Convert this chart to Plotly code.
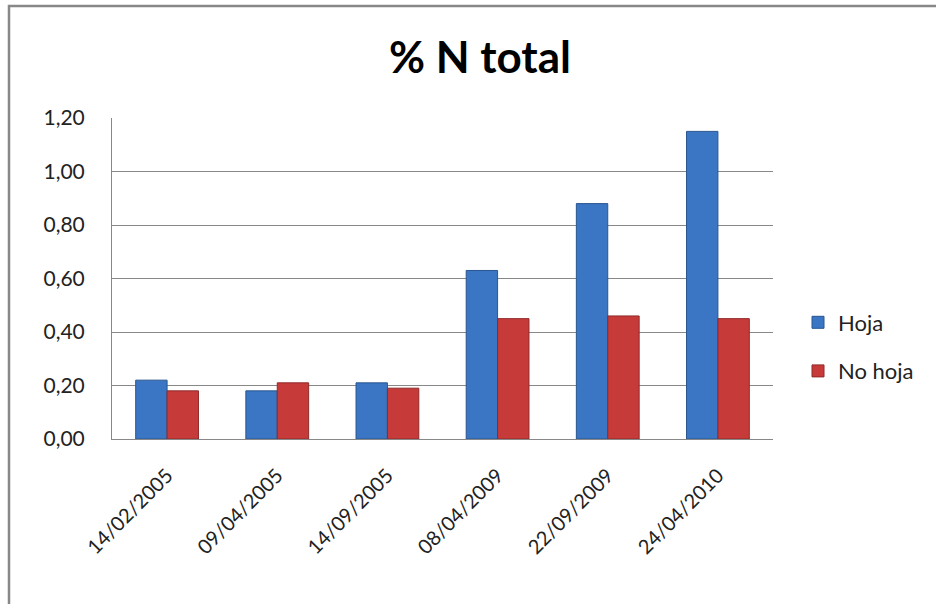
import plotly.graph_objects as go

categories = ["14/02/2005", "09/04/2005", "14/09/2005", "08/04/2009", "22/09/2009", "24/04/2010"]
hoja = [0.22, 0.18, 0.21, 0.63, 0.88, 1.15]
no_hoja = [0.18, 0.21, 0.19, 0.45, 0.46, 0.45]
yticks = [0.0, 0.2, 0.4, 0.6, 0.8, 1.0, 1.2]

FONT = "Lato, Open Sans, sans-serif"

fig = go.Figure()
fig.add_trace(go.Bar(
    x=categories, y=hoja, name="Hoja", legendgroup="a",
    marker=dict(color="#3a76c4", line=dict(color="#2a568f", width=1)),
))
fig.add_trace(go.Bar(
    x=categories, y=no_hoja, name="No hoja", legendgroup="b",
    marker=dict(color="#c63a39", line=dict(color="#8f2a2a", width=1)),
))

W, H = 936, 604
L, R, T, B = 112, 163, 118, 165
pw, ph = W - L - R, H - T - B

def px(x):
    return (x - L) / pw

def py(y):
    return (H - B - y) / ph

fig.update_layout(
    width=W, height=H,
    margin=dict(l=L, r=R, t=T, b=B),
    paper_bgcolor="white", plot_bgcolor="white",
    separators=",.",
    barmode="group", bargap=0.43, bargroupgap=0.0,
    title=dict(text="<b>% N total</b>", x=px(480), xref="paper", xanchor="center",
               y=1 - 58 / H, yanchor="middle",
               font=dict(family=FONT, size=44, color="black")),
    font=dict(family=FONT, size=20, color="#222"),
    xaxis=dict(type="category", tickangle=-45, showgrid=False,
               showline=True, linecolor="#888", linewidth=1, ticks="",
               ticklabelstandoff=16,
               tickfont=dict(size=20, color="#222")),
    yaxis=dict(range=[0, 1.2], tickvals=yticks, tickformat=".2f",
               showgrid=True, gridcolor="#888", gridwidth=1,
               showline=True, linecolor="#888", linewidth=1,
               ticks="", ticklen=0, zeroline=False, ticklabelstandoff=22,
               tickfont=dict(size=21, color="#222")),
    legend=dict(x=px(798), y=py(347), xanchor="left", yanchor="middle",
                tracegroupgap=17, font=dict(size=22, color="#222"),
                itemwidth=30, bgcolor="rgba(0,0,0,0)"),
    showlegend=True,
    shapes=[dict(type="rect", xref="paper", yref="paper",
                 x0=px(9), x1=px(960), y0=py(640), y1=py(6),
                 line=dict(color="#888", width=2.5), layer="below")],
)

fig.write_html("out.html", config={"displayModeBar": False},
               post_script="document.body.style.margin='0';document.body.style.overflow='hidden';")
